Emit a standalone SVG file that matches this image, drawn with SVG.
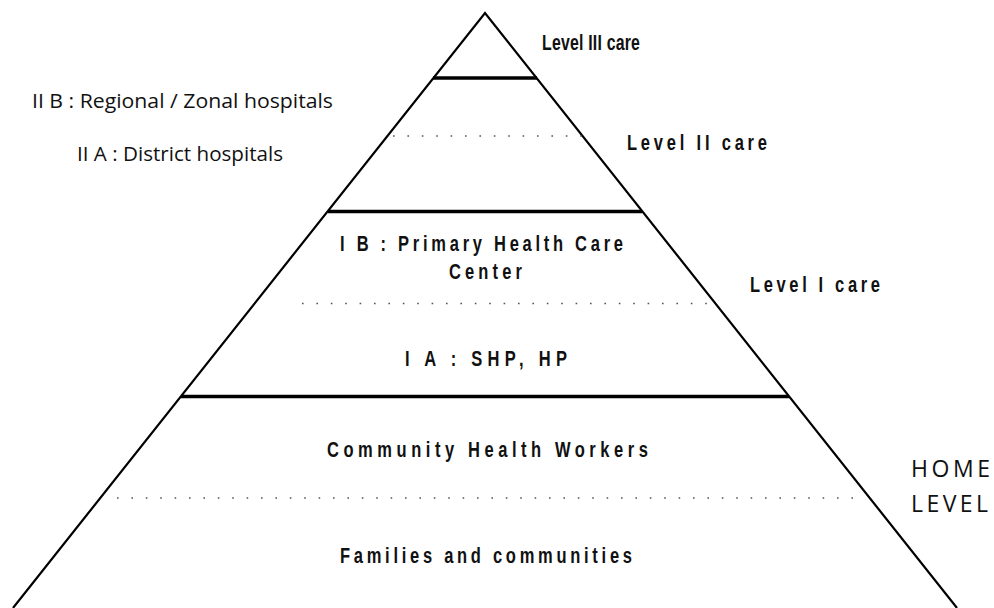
<svg xmlns="http://www.w3.org/2000/svg" width="994" height="608" viewBox="0 0 994 608">
<style>
.side{stroke:#000;stroke-width:2.2;fill:none}
.bar{stroke:#000;stroke-width:3.4}
.dot{stroke:#555;stroke-width:1.6;stroke-dasharray:1.6 12.8}
.lvl{font-family:"Liberation Sans",Arial,sans-serif;font-weight:bold;font-size:22px;fill:#111}
.lbl{font-family:"Open Sans","Lato",sans-serif;font-size:20.5px;fill:#111}
.big{font-size:23px}
</style>
<rect width="994" height="608" fill="#fff"/>
<g id="pyramid">
<polyline class="side" points="13,608 485,13 957,608"/>
</g>
<g id="connectors">
<line class="bar" x1="433" y1="78" x2="537" y2="78"/>
<line class="bar" x1="328" y1="211.5" x2="642" y2="211.5"/>
<line class="bar" x1="181" y1="396.5" x2="789" y2="396.5"/>
<line class="dot" x1="393" y1="136" x2="582" y2="136"/>
<line class="dot" x1="302" y1="303.5" x2="716" y2="303.5"/>
<line class="dot" x1="117" y1="498" x2="860" y2="498"/>
</g>
<g id="level3"><text class="lvl" transform="translate(542,50) scale(0.72,1)" textLength="136" lengthAdjust="spacing">Level III care</text></g>
<g id="level2"><text class="lvl" transform="translate(627,150) scale(0.75,1)" textLength="186.7" lengthAdjust="spacing">Level II care</text></g>
<g id="level1"><text class="lvl" transform="translate(750,292) scale(0.75,1)" textLength="173.3" lengthAdjust="spacing">Level I care</text></g>
<g id="iib"><text class="lbl" x="32" y="108" textLength="301" lengthAdjust="spacingAndGlyphs">II B : Regional / Zonal hospitals</text></g>
<g id="iia"><text class="lbl" x="77" y="161" textLength="206" lengthAdjust="spacingAndGlyphs">II A : District hospitals</text></g>
<g id="ib"><text class="lvl" transform="translate(340,251) scale(0.75,1)" textLength="377.3" lengthAdjust="spacing">I B : Primary Health Care</text>
<text class="lvl" transform="translate(449,279) scale(0.75,1)" textLength="97.3" lengthAdjust="spacing">Center</text></g>
<g id="ia"><text class="lvl" transform="translate(405,366) scale(0.75,1)" textLength="216" lengthAdjust="spacing">I A : SHP, HP</text></g>
<g id="chw"><text class="lvl" transform="translate(327,457) scale(0.75,1)" textLength="428" lengthAdjust="spacing">Community Health Workers</text></g>
<g id="families"><text class="lvl" transform="translate(340,563) scale(0.75,1)" textLength="389.3" lengthAdjust="spacing">Families and communities</text></g>
<g id="home"><text class="lbl big" x="911" y="477" textLength="79" lengthAdjust="spacing">HOME</text>
<text class="lbl big" x="911" y="512" textLength="77" lengthAdjust="spacing">LEVEL</text></g>
</svg>
